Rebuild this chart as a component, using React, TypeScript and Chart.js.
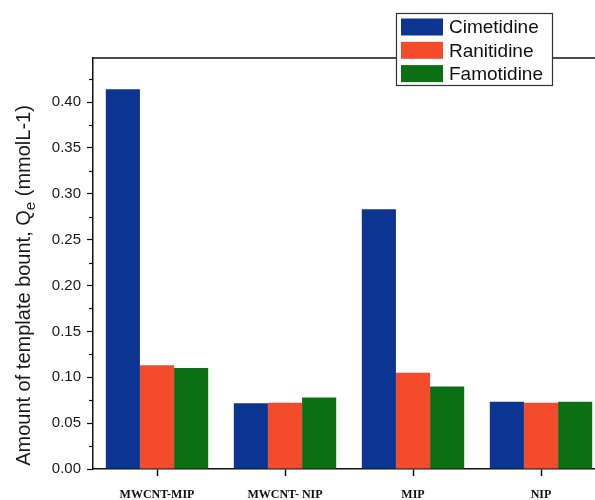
import React, { useEffect, useRef } from "react";
import { Chart, registerables } from "chart.js";

Chart.register(...registerables);

const categories = ["MWCNT-MIP", "MWCNT- NIP", "MIP", "NIP"];
const cimetidine = [0.414, 0.0716, 0.283, 0.0733];
const ranitidine = [0.113, 0.0723, 0.105, 0.0723];
const famotidine = [0.110, 0.078, 0.090, 0.0733];
const seriesNames = ["Cimetidine", "Ranitidine", "Famotidine"];
const seriesColors = ["#0b3591", "#f34b2b", "#0b7014"];

// y axis: labelled majors every 0.05, unlabelled minors in between
const yTickValues = [0, 0.025, 0.05, 0.075, 0.1, 0.125, 0.15, 0.175, 0.2, 0.225, 0.25, 0.275, 0.3, 0.325, 0.35, 0.375, 0.4, 0.425];
const yMajorLabels = ["0.00", "0.05", "0.10", "0.15", "0.20", "0.25", "0.30", "0.35", "0.40"];

const SANS = "'Liberation Sans', Arial, sans-serif";
const SERIF = "'Liberation Serif', 'Times New Roman', serif";

const isMajor = (v: number) => Math.round(v * 1000) % 50 === 0;

// frame line on top, minor y ticks, the rotated y title with subscript and the boxed legend
const decorations = {
  id: "decorations",
  afterDraw(chart: any) {
    const { ctx, chartArea } = chart;
    const y = chart.scales.y;
    ctx.save();

    // top frame line
    ctx.strokeStyle = "#111";
    ctx.lineWidth = 1.5;
    ctx.beginPath();
    ctx.moveTo(chartArea.left - 1, chartArea.top);
    ctx.lineTo(chartArea.right, chartArea.top);
    ctx.stroke();

    // minor ticks
    ctx.lineWidth = 1.2;
    yTickValues.forEach((v) => {
      if (isMajor(v)) return;
      const py = Math.round(y.getPixelForValue(v)) + 0.5;
      ctx.beginPath();
      ctx.moveTo(chartArea.left - 4, py);
      ctx.lineTo(chartArea.left, py);
      ctx.stroke();
    });

    // y title, centred a little below the plot's middle
    const midY = (chartArea.top + chartArea.bottom) / 2 + 22;
    ctx.translate(30, midY);
    ctx.rotate(-Math.PI / 2);
    ctx.fillStyle = "#1a1a1a";
    ctx.textBaseline = "alphabetic";
    ctx.textAlign = "left";
    const big = `20px ${SANS}`;
    const small = `15px ${SANS}`;
    const p1 = "Amount of template bount, Q";
    const p2 = "e";
    const p3 = " (mmolL-1)";
    ctx.font = big;
    const w1 = ctx.measureText(p1).width;
    const w3 = ctx.measureText(p3).width;
    ctx.font = small;
    const w2 = ctx.measureText(p2).width;
    const total = w1 + w2 + w3;
    let x = -total / 2;
    ctx.font = big;
    ctx.fillText(p1, x, 0);
    x += w1;
    ctx.font = small;
    ctx.fillText(p2, x, 5);
    x += w2;
    ctx.font = big;
    ctx.fillText(p3, x, 0);
    ctx.restore();

    // legend
    ctx.save();
    const bx = 396, by = 13, bw = 156, bh = 72;
    ctx.fillStyle = "#ffffff";
    ctx.fillRect(bx, by, bw, bh);
    ctx.strokeStyle = "#333";
    ctx.lineWidth = 1.2;
    ctx.strokeRect(bx + 0.5, by + 0.5, bw, bh);
    ctx.font = `19px ${SANS}`;
    ctx.textBaseline = "middle";
    ctx.textAlign = "left";
    chart.data.datasets.forEach((ds: any, i: number) => {
      const cy = by + 14 + i * 23.3;
      ctx.fillStyle = ds.backgroundColor;
      ctx.fillRect(bx + 5, cy - 8.5, 42, 17);
      ctx.fillStyle = "#111";
      ctx.fillText(ds.label, bx + 53, cy + 1);
    });
    ctx.restore();
  },
};

export default function App() {
  const canvasRef = useRef<HTMLCanvasElement | null>(null);

  useEffect(() => {
    if (!canvasRef.current) return;
    const series = [cimetidine, ranitidine, famotidine];
    const chart = new Chart(canvasRef.current, {
      type: "bar",
      data: {
        labels: categories,
        datasets: series.map((data, i) => ({
          label: seriesNames[i],
          data,
          backgroundColor: seriesColors[i],
          borderWidth: 0,
          categoryPercentage: 0.8,
          barPercentage: 1.0,
        })),
      },
      options: {
        animation: false,
        responsive: false,
        devicePixelRatio: 1,
        layout: { padding: { top: 58, right: 35, left: 0, bottom: 0 } },
        plugins: {
          legend: { display: false },
          tooltip: { enabled: false },
          title: { display: false },
        },
        scales: {
          x: {
            offset: true,
            afterFit: (s: any) => {
              s.height = 31;
            },
            grid: {
              offset: false,
              drawOnChartArea: false,
              drawTicks: true,
              tickLength: 7,
              tickColor: "#111",
              tickWidth: 1.5,
            },
            border: { display: true, color: "#111", width: 1.5 },
            ticks: {
              padding: 12,
              color: "#111",
              maxRotation: 0,
              autoSkip: false,
              font: { family: SERIF, size: 12, weight: "bold" },
            },
          },
          y: {
            min: 0,
            max: 0.448,
            afterFit: (s: any) => {
              s.width = 93;
            },
            afterBuildTicks: (s: any) => {
              s.ticks = yTickValues.map((v) => ({ value: v }));
            },
            grid: {
              drawOnChartArea: false,
              drawTicks: true,
              tickLength: 6,
              tickWidth: 1.2,
              tickColor: (c: any) =>
                c.tick && isMajor(c.tick.value) ? "#111" : "rgba(0,0,0,0)",
            },
            border: { display: true, color: "#111", width: 1.5 },
            ticks: {
              padding: 6,
              color: "#1a1a1a",
              autoSkip: false,
              font: { family: SANS, size: 15 },
              callback: (v: any) => {
                const n = Number(v);
                if (!isMajor(n)) return "";
                return yMajorLabels[Math.round(n * 20)] ?? "";
              },
            },
          },
        },
      },
      plugins: [decorations],
    });
    return () => chart.destroy();
  }, []);

  return (
    <div
      style={{
        position: "fixed",
        left: 0,
        top: 0,
        width: 595,
        height: 500,
        overflow: "hidden",
        background: "#ffffff",
      }}
    >
      <canvas ref={canvasRef} width={640} height={500} style={{ display: "block" }} />
    </div>
  );
}
